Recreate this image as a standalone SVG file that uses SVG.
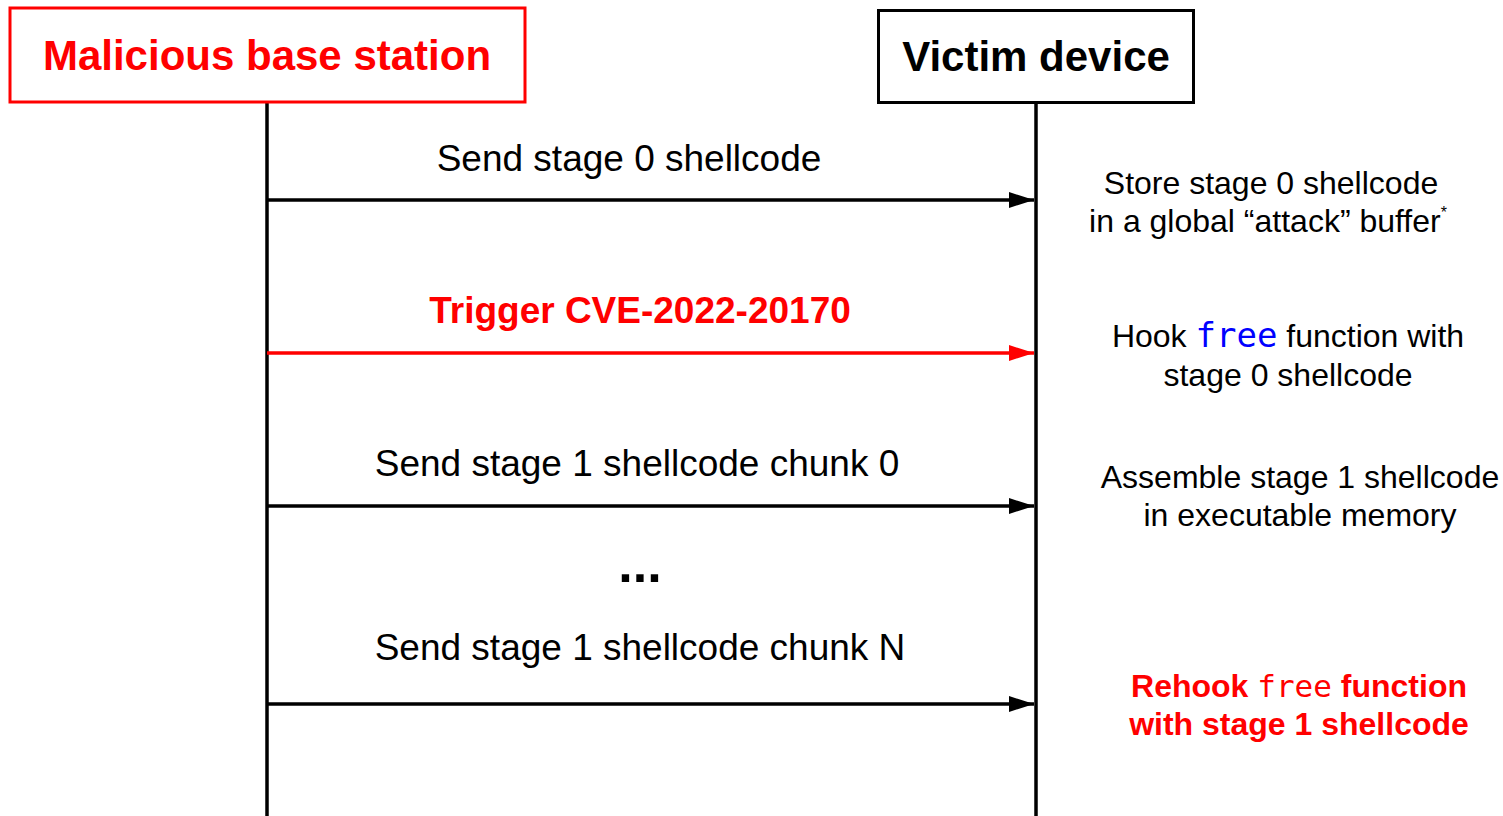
<svg xmlns="http://www.w3.org/2000/svg" width="1503" height="816" viewBox="0 0 1503 816">
<style>
.t{font-family:"Liberation Sans",Arial,sans-serif;}
.b{font-weight:bold;}
.m{font-family:"DejaVu Sans Mono","Liberation Mono",monospace;}
.lbl{font-size:37px;text-anchor:middle;}
.note{font-size:32px;text-anchor:middle;}
.life{stroke:#000;stroke-width:3.5;fill:none;}
.msg{stroke-width:3.5;fill:none;}
</style>
<defs>
<marker id="ab" markerUnits="userSpaceOnUse" markerWidth="26" markerHeight="18" refX="25" refY="9" orient="auto"><path d="M0,1 L25,9 L0,17 Z" fill="#000"/></marker>
<marker id="ar" markerUnits="userSpaceOnUse" markerWidth="26" markerHeight="18" refX="25" refY="9" orient="auto"><path d="M0,1 L25,9 L0,17 Z" fill="#ff0000"/></marker>
</defs>
<rect width="1503" height="816" fill="#fff"/>
<g id="lifelines">
<line class="life" x1="267" y1="102" x2="267" y2="816"/>
<line class="life" x1="1036" y1="103" x2="1036" y2="816"/>
</g>
<g id="base-station">
<rect x="10" y="8" width="515" height="94" fill="#fff" stroke="#ff0000" stroke-width="3"/>
<text class="t b" x="267" y="70" font-size="42" text-anchor="middle" fill="#ff0000">Malicious base station</text>
</g>
<g id="victim-device">
<rect x="878.5" y="10.5" width="315" height="92" fill="#fff" stroke="#000" stroke-width="3"/>
<text class="t b" x="1036" y="71" font-size="42" text-anchor="middle" fill="#000">Victim device</text>
</g>
<g id="connectors">
<line class="msg" x1="267" y1="200" x2="1034" y2="200" stroke="#000" marker-end="url(#ab)"/>
<line class="msg" x1="267" y1="353" x2="1034" y2="353" stroke="#ff0000" marker-end="url(#ar)"/>
<line class="msg" x1="267" y1="506" x2="1034" y2="506" stroke="#000" marker-end="url(#ab)"/>
<line class="msg" x1="267" y1="704" x2="1034" y2="704" stroke="#000" marker-end="url(#ab)"/>
</g>
<g id="labels">
<text class="t lbl" x="629" y="171">Send stage 0 shellcode</text>
<text class="t lbl b" x="640" y="323" fill="#ff0000">Trigger CVE-2022-20170</text>
<text class="t lbl" x="637" y="476">Send stage 1 shellcode chunk 0</text>
<text class="t b" x="640" y="582" font-size="52" text-anchor="middle">...</text>
<text class="t lbl" x="640" y="660">Send stage 1 shellcode chunk N</text>
</g>
<g id="notes">
<text class="t note" x="1271" y="194">Store stage 0 shellcode</text>
<text class="t note" x="1268" y="232">in a global “attack” buffer<tspan font-size="16" dy="-14">*</tspan></text>
<text class="t note" x="1288" y="347">Hook <tspan class="m" fill="#0000ff" font-size="34">free</tspan> function with</text>
<text class="t note" x="1288" y="386">stage 0 shellcode</text>
<text class="t note" x="1300" y="488">Assemble stage 1 shellcode</text>
<text class="t note" x="1300" y="526">in executable memory</text>
<text class="t note b" x="1299" y="697" fill="#ff0000">Rehook <tspan class="m" font-weight="normal" font-size="31">free</tspan> function</text>
<text class="t note b" x="1299" y="735" fill="#ff0000">with stage 1 shellcode</text>
</g>
</svg>
